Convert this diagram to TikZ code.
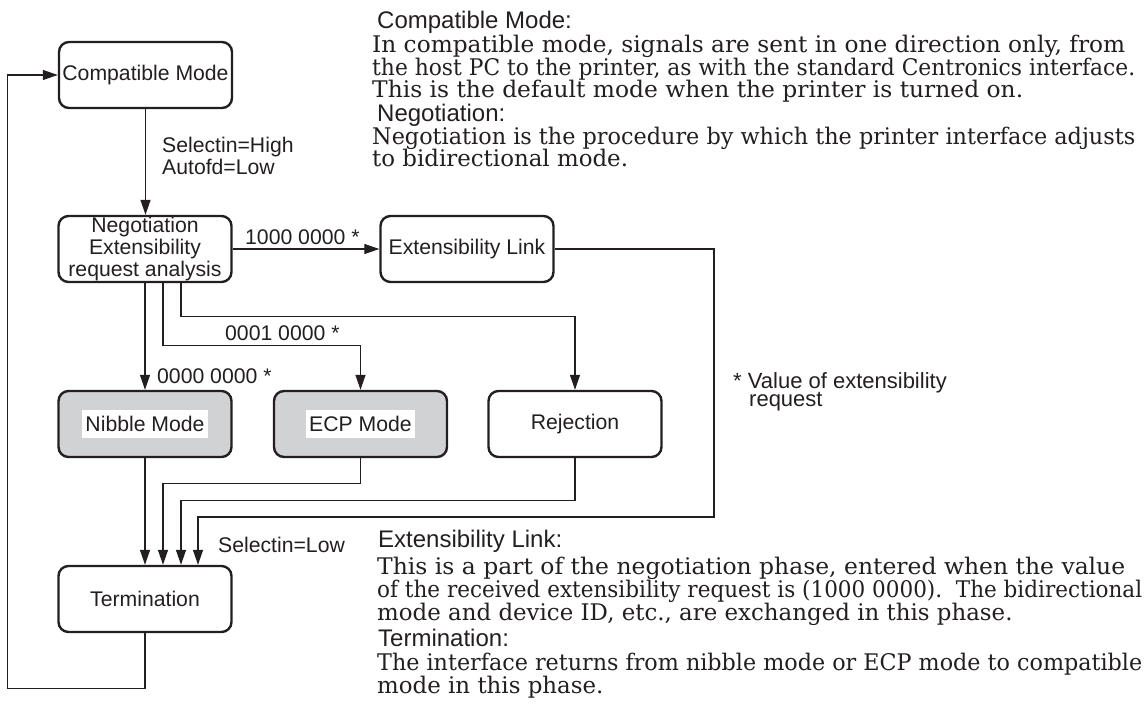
\documentclass[tikz,border=0pt]{standalone}
\usepackage{graphicx}
\usepackage{fontspec}
\setmainfont{DejaVu Serif}
\newfontfamily\hv{Liberation Sans}
\usetikzlibrary{arrows.meta}
\definecolor{ink}{RGB}{35,31,32}
\definecolor{boxgray}{RGB}{209,210,212}
\newcommand\fitline[2]{\resizebox{#1pt}{\height}{#2}}
\begin{document}
\begin{tikzpicture}[x=1pt,y=-1pt,
  box/.style={draw=ink, line width=2.4pt, rounded corners=10pt, minimum width=173pt, minimum height=66pt, inner sep=0pt, font=\hv\fontsize{21.2}{21.6}\selectfont, text=ink, align=center},
  shaded/.style={box, fill=boxgray},
  wlbl/.style={fill=white, inner xsep=3.7pt, inner ysep=0pt, minimum height=28pt, font=\hv\fontsize{21.2}{21.6}\selectfont, text=ink},
  conn/.style={draw=ink, line width=1.3pt},
  arr/.style={conn, -{Triangle[length=15pt,width=10pt]}},
  elab/.style={font=\hv\fontsize{21.2}{22}\selectfont, text=ink, anchor=west, inner sep=0pt, align=left},
  note/.style={font=\hv\fontsize{22}{22}\selectfont, text=ink, anchor=base west, inner sep=0pt},
  head/.style={font=\hv\fontsize{24}{24}\selectfont, text=ink, anchor=base west, inner sep=0pt},
  body/.style={font=\fontsize{22.9}{22.5}\selectfont, text=ink, anchor=base west, inner sep=0pt},
]
\useasboundingbox (0,0) rectangle (1144,720);

% boxes
\node[box] (comp) at (145.5,75) {Compatible Mode};
\node[box] (neg) at (145,249) {Negotiation\\Extensibility\\request analysis};
\node[box] (ext) at (467,249) {Extensibility Link};
\node[shaded] (nib) at (145,424) {};
\node[wlbl] (nibt) at (nib.center) {Nibble Mode};
\node[shaded] (ecp) at (360.5,424) {};
\node[wlbl] (ecpt) at (ecp.center) {ECP Mode};
\node[box] (rej) at (575,424) {Rejection};
\node[box] (term) at (145,599) {Termination};

% named corner coordinates
\coordinate (eR) at (714,517);
\coordinate (loopL) at (7.5,75);

% connectors
\draw[arr] (comp.south) -- (comp.south |- neg.north);
\draw[arr] (neg.east) -- (ext.west);
\draw[arr] (neg.south) -- (nib.north);
\draw[arr] ([xshift=18pt]neg.south) -- ++(0,62) -| (ecp.north);
\draw[arr] ([xshift=36pt]neg.south) -- ++(0,33) -| (rej.north);
\draw[arr] (nib.south) -- (term.north);
\draw[arr] (ecp.south) -- ++(0,25) -| ([xshift=18pt]term.north);
\draw[arr] (rej.south) -- ++(0,42) -| ([xshift=36pt]term.north);
\draw[arr] (ext.east) -| (eR) -| ([xshift=53pt]term.north);
\draw[arr] (term.south) -- ++(0,55) -| (loopL) -- (comp.west);

% connector labels
\node[elab] (lsel) at (162,156) {Selectin=High\\Autofd=Low};
\node[elab] (l1000) at (245,237) {1000 0000 *};
\node[elab] (l0001) at (225,333) {0001 0000 *};
\node[elab] (l0000) at (157,376) {0000 0000 *};
\node[elab] (lsell) at (218,545) {Selectin=Low};
\node[note] (note1) at (733,388) {* Value of extensibility};
\node[note] (note2) at (749,406) {request};

% explanatory text
\node[head] (h1) at (377,28) {Compatible Mode:};
\node[body] (b11) at (372,52) {\fitline{753}{In compatible mode, signals are sent in one direction only, from}};
\node[body] (b12) at (372,75) {\fitline{763}{the host PC to the printer, as with the standard Centronics interface.}};
\node[body] (b13) at (372,97) {\fitline{651}{This is the default mode when the printer is turned on.}};
\node[head] (h2) at (377,121) {Negotiation:};
\node[body] (b21) at (372,144) {\fitline{763}{Negotiation is the procedure by which the printer interface adjusts}};
\node[body] (b22) at (372,166) {to bidirectional mode.};
\node[head] (h3) at (378,547) {Extensibility Link:};
\node[body] (b31) at (377,574) {\fitline{748}{This is a part of the negotiation phase, entered when the value}};
\node[body] (b32) at (377,597) {\fitline{765}{of the received extensibility request is (1000 0000).\ \ The bidirectional}};
\node[body] (b33) at (377,620) {mode and device ID, etc., are exchanged in this phase.};
\node[head] (h4) at (378,646) {Termination:};
\node[body] (b41) at (377,670) {\fitline{765}{The interface returns from nibble mode or ECP mode to compatible}};
\node[body] (b42) at (377,693) {mode in this phase.};
\end{tikzpicture}
\end{document}
